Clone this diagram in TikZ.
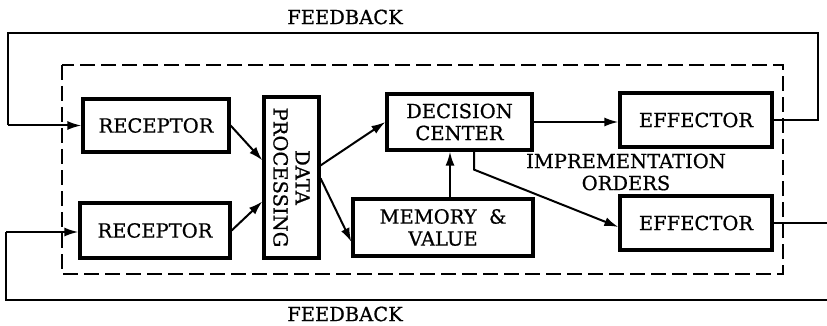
\documentclass[tikz,border=0pt]{standalone}
\usepackage{fontspec}
\setmainfont[FakeBold=0.7]{DejaVu Serif}
\usetikzlibrary{arrows.meta,calc}
\begin{document}
\begin{tikzpicture}[x=1pt,y=-1pt,
  every node/.style={font=\fontsize{19.5}{22}\selectfont, inner sep=0pt},
  blockbox/.style={draw, line width=3.2pt, align=center},
  flow/.style={line width=2pt, -{Latex[length=14pt,width=9pt]}},
  loopline/.style={line width=2pt},
  boundary/.style={line width=1.8pt, dash pattern=on 15pt off 6pt}]
  \clip (0,0) rectangle (827,326);
  \fill[white] (0,0) rectangle (827,326);

  % blocks
  \node[blockbox, minimum width=146, minimum height=53] (rec1) at (156,125.5) {RECEPTOR};
  \node[blockbox, minimum width=150, minimum height=55] (rec2) at (155,230.5) {RECEPTOR};
  \node[blockbox, minimum width=55, minimum height=161] (dp) at (291.5,177.5) {};
  \node[rotate=-90, align=center] (dptext) at (dp.center) {DATA\\PROCESSING};
  \node[blockbox, minimum width=145, minimum height=56] (dec) at (459.5,122) {DECISION\\CENTER};
  \node[blockbox, minimum width=152, minimum height=54] (eff1) at (696,120) {EFFECTOR};
  \node[blockbox, minimum width=180, minimum height=57] (mem) at (443,227.5) {MEMORY~~\&\\VALUE};
  \node[blockbox, minimum width=152, minimum height=54] (eff2) at (696,223) {EFFECTOR};

  % system boundary
  \draw[boundary] (62,65) rectangle (783,274);

  % labels
  \node (fbtop) at (345,17) {FEEDBACK};
  \node (fbbot) at (345,314) {FEEDBACK};
  \node[align=center] (impl) at (626,172) {IMPREMENTATION\\ORDERS};

  % internal flows
  \draw[flow] (rec1.east) -- ([yshift=-65pt]dp.north west);
  \draw[flow] (rec2.east) -- ([yshift=-106pt]dp.north west);
  \draw[flow] ([yshift=-70pt]dp.north east) -- (dec.west);
  \draw[flow] ([yshift=-83pt]dp.north east) -- ([yshift=-14.5pt]mem.west);
  \draw[flow] (dec.east) -- (dec.east -| eff1.west);
  \draw[flow] ([xshift=7pt]mem.north) -- ([xshift=7pt]mem.north |- dec.south);
  \coordinate (bend) at ([xshift=14.5pt,yshift=-18pt]dec.south);
  \draw[flow] ([xshift=14.5pt]dec.south) -- (bend) -- ([yshift=-4pt]eff2.west);

  % feedback loops
  \coordinate (tr) at (818,33);
  \coordinate (tl) at (8,33);
  \draw[loopline] (eff1.east) -- (eff1.east -| tr) -- (tr) -- (tl) -- (tl |- rec1.west);
  \draw[flow] (tl |- rec1.west) -- (rec1.west);
  \coordinate (br) at (840,300);
  \coordinate (bl) at (6,300);
  \draw[loopline] (eff2.east) -- (eff2.east -| br) -- (br) -- (bl) -- ([yshift=-1.5pt]bl |- rec2.west);
  \draw[flow] ([yshift=-1.5pt]bl |- rec2.west) -- ([yshift=-1.5pt]rec2.west);
\end{tikzpicture}
\end{document}
